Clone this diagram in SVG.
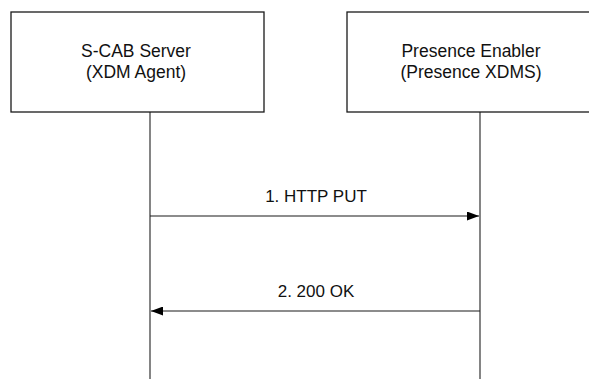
<svg xmlns="http://www.w3.org/2000/svg" width="589" height="379" viewBox="0 0 589 379">
<style>
.box{fill:#fff;stroke:#1a1a1a;stroke-width:1.3}
.life{stroke:#333;stroke-width:1.2;fill:none}
.msg{stroke:#1a1a1a;stroke-width:1.2;fill:none}
text{font-family:"Liberation Sans",Arial,sans-serif;fill:#111;text-anchor:middle}
.t{font-size:17.5px}
.m{font-size:17px}
</style>
<defs>
<marker id="ah" markerWidth="12" markerHeight="9" refX="12" refY="4.5" orient="auto" markerUnits="userSpaceOnUse">
<path d="M0,0 L12,4.5 L0,9 Z" fill="#000"/>
</marker>
</defs>
<g id="lifelines">
<line class="life" x1="150" y1="112" x2="150" y2="379"/>
<line class="life" x1="480" y1="112" x2="480" y2="379"/>
</g>
<g id="node-scab">
<rect class="box" x="11" y="12" width="253" height="100"/>
<text class="t" x="136" y="57">S-CAB Server</text>
<text class="t" x="136" y="78">(XDM Agent)</text>
</g>
<g id="node-presence">
<rect class="box" x="347" y="12" width="250" height="100"/>
<text class="t" x="471" y="57">Presence Enabler</text>
<text class="t" x="471" y="78">(Presence XDMS)</text>
</g>
<g id="connectors">
<line class="msg" x1="150" y1="216" x2="479" y2="216" marker-end="url(#ah)"/>
<text class="m" x="316" y="202">1. HTTP PUT</text>
<line class="msg" x1="480" y1="311" x2="151" y2="311" marker-end="url(#ah)"/>
<text class="m" x="316" y="297">2. 200 OK</text>
</g>
</svg>
